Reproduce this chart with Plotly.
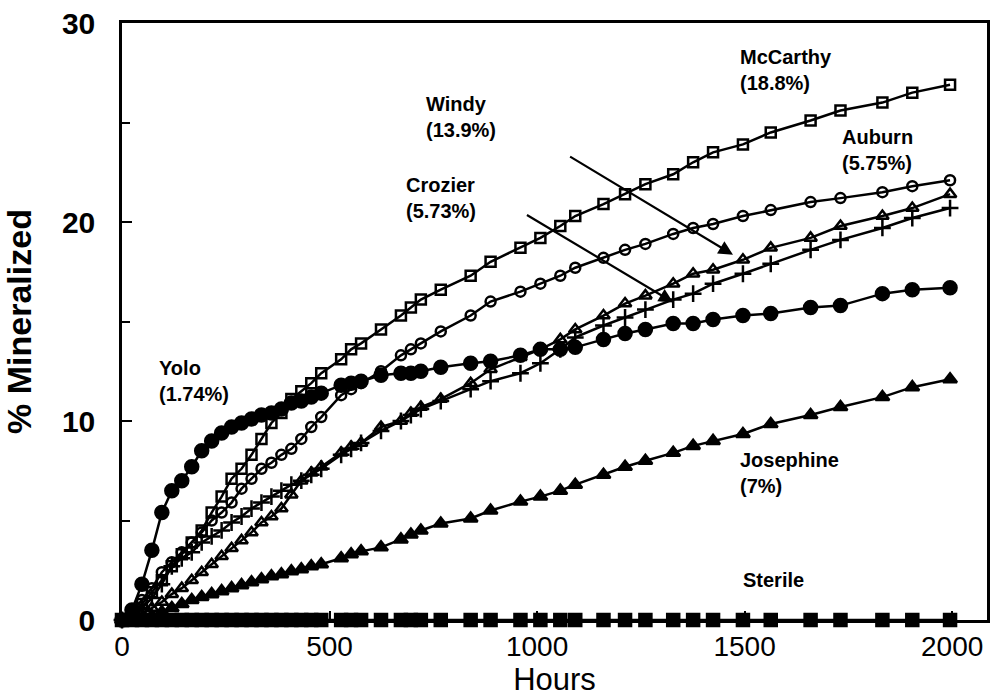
import plotly.graph_objects as go

hours = [0, 24, 48, 72, 96, 120, 144, 168, 192, 216, 240, 264, 288, 312, 336, 360, 384, 408, 432, 456,
         480, 528, 552, 576, 624, 672, 696, 720, 768, 840, 888, 960, 1008, 1056, 1092, 1160, 1212, 1261,
         1328, 1376, 1424, 1496, 1563, 1659, 1731, 1832, 1904, 1995]

mccarthy = [0, 0.3, 0.8, 1.4, 2.0, 2.7, 3.3, 3.9, 4.5, 5.4, 6.2, 7.1, 7.6, 8.3, 9.1, 9.9, 10.4, 11.1, 11.5, 11.9,
            12.4, 13.1, 13.6, 13.9, 14.6, 15.3, 15.7, 16.1, 16.6, 17.3, 18.0, 18.7, 19.2, 19.8, 20.3, 20.9, 21.4, 21.9,
            22.4, 23.0, 23.5, 23.9, 24.5, 25.1, 25.6, 26.0, 26.5, 26.9]
auburn = [0, 0.4, 1.0, 1.6, 2.4, 2.9, 3.4, 3.9, 4.4, 5.0, 5.4, 5.9, 6.6, 7.1, 7.6, 7.9, 8.3, 8.6, 9.1, 9.7,
          10.2, 11.3, 11.6, 11.9, 12.5, 13.3, 13.6, 13.9, 14.5, 15.3, 16.0, 16.5, 16.9, 17.3, 17.7, 18.2, 18.6, 18.9,
          19.4, 19.7, 19.9, 20.3, 20.6, 21.0, 21.2, 21.5, 21.8, 22.1]
yolo = [0, 0.5, 1.8, 3.5, 5.4, 6.5, 7.0, 7.7, 8.5, 9.0, 9.4, 9.7, 9.9, 10.1, 10.3, 10.4, 10.6, 10.9, 11.0, 11.2,
        11.4, 11.8, 11.9, 12.0, 12.3, 12.4, 12.4, 12.5, 12.7, 12.9, 13.0, 13.3, 13.6, 13.6, 13.7, 14.1, 14.4, 14.6,
        14.9, 14.9, 15.1, 15.3, 15.4, 15.7, 15.8, 16.4, 16.6, 16.7]
windy = [0, 0.1, 0.3, 0.6, 0.9, 1.3, 1.6, 2.0, 2.4, 2.8, 3.2, 3.6, 4.0, 4.4, 4.9, 5.2, 5.6, 6.3, 7.0, 7.4,
         7.7, 8.4, 8.7, 8.9, 9.7, 10.0, 10.4, 10.7, 11.1, 11.9, 12.6, 13.2, 13.6, 14.1, 14.6, 15.3, 15.9, 16.3,
         16.9, 17.4, 17.6, 18.1, 18.7, 19.2, 19.8, 20.3, 20.7, 21.4]
crozier = [0, 0.2, 0.6, 1.1, 1.8, 2.7, 3.1, 3.4, 3.9, 4.2, 4.5, 4.9, 5.2, 5.6, 5.9, 6.2, 6.5, 6.8, 7.0, 7.3,
           7.6, 8.3, 8.6, 8.9, 9.5, 10.0, 10.3, 10.6, 11.0, 11.6, 12.0, 12.4, 12.9, 13.6, 14.2, 14.8, 15.2, 15.6,
           16.1, 16.4, 16.9, 17.4, 17.9, 18.6, 19.1, 19.7, 20.2, 20.7]
josephine = [0, 0.05, 0.1, 0.2, 0.4, 0.6, 0.8, 1.0, 1.15, 1.3, 1.45, 1.6, 1.75, 1.9, 2.05, 2.2, 2.3, 2.45, 2.55, 2.7,
             2.8, 3.1, 3.3, 3.45, 3.65, 4.05, 4.3, 4.5, 4.85, 5.1, 5.5, 5.95, 6.2, 6.5, 6.8, 7.3, 7.7, 8.0,
             8.4, 8.75, 9.0, 9.35, 9.85, 10.3, 10.7, 11.2, 11.7, 12.1]
sterile = [0.0] * len(hours)

series = [
    ("Sterile", sterile, "square", 12),
    ("Josephine", josephine, "triangle-up", 12),
    ("Crozier", crozier, "cross-thin-open", 12),
    ("Windy", windy, "triangle-up-open", 11),
    ("Yolo", yolo, "circle", 13),
    ("Auburn", auburn, "circle-open", 10),
    ("McCarthy", mccarthy, "square-open", 10),
]

labels = [
    ("Yolo<br>(1.74%)", 84, 12.0),
    ("McCarthy<br>(18.8%)", 1484, 27.65),
    ("Windy<br>(13.9%)", 727, 25.3),
    ("Crozier<br>(5.73%)", 679, 21.2),
    ("Auburn<br>(5.75%)", 1731, 23.6),
    ("Josephine<br>(7%)", 1484, 7.4),
    ("Sterile", 1491, 2.0),
]

arrows = [
    (1472, 18.36, 1076, 23.33),
    (1328, 15.96, 972, 20.4),
]

fig = go.Figure()
for name, vals, sym, size in series:
    fig.add_trace(go.Scatter(
        x=hours, y=vals, mode="lines+markers", name=name, cliponaxis=False,
        line=dict(color="black", width=2.5),
        marker=dict(symbol=sym, size=size, color="black",
                    line=dict(color="black", width=2.5)),
        showlegend=False,
    ))

for text, x, y in labels:
    fig.add_annotation(x=x, y=y, xref="x", yref="y", text=text, showarrow=False,
                       xanchor="left", yanchor="middle", align="left",
                       font=dict(family="Liberation Sans, Arial", size=20, color="black", weight="bold"))

for x, y, ax, ay in arrows:
    fig.add_annotation(x=x, y=y, ax=ax, ay=ay, xref="x", yref="y", axref="x", ayref="y",
                       text="", showarrow=True, arrowhead=2, arrowsize=1.3, arrowwidth=2.2,
                       arrowcolor="black")

fig.update_layout(
    width=996, height=698,
    margin=dict(l=122, r=6, t=22, b=78),
    plot_bgcolor="white", paper_bgcolor="white",
    font=dict(family="Liberation Sans, Arial", color="black"),
)
fig.update_xaxes(
    range=[0, 2084], tickvals=[0, 500, 1000, 1500, 2000],
    ticks="inside", ticklen=9, tickwidth=2, tickcolor="black",
    showline=True, linewidth=2.5, linecolor="black", mirror=True,
    showgrid=False, zeroline=False,
    tickfont=dict(size=28, family="Liberation Sans, Arial"),
    title=dict(text="Hours", font=dict(size=31, family="Liberation Sans, Arial"), standoff=6),
)
fig.update_yaxes(
    range=[0, 30], tickvals=[0, 10, 20, 30],
    ticks="inside", ticklen=10, tickwidth=2, tickcolor="black",
    minor=dict(tickvals=[5, 15, 25], ticks="inside", ticklen=8, tickwidth=2, tickcolor="black"),
    showline=True, linewidth=2.5, linecolor="black", mirror=True,
    showgrid=False, zeroline=False, ticklabelstandoff=18,
    tickfont=dict(size=30, family="Liberation Sans, Arial", weight="bold"),
    title=dict(text="% Mineralized", font=dict(size=34, family="Liberation Sans, Arial", weight="bold"), standoff=22),
)

fig.write_html("out.html")
